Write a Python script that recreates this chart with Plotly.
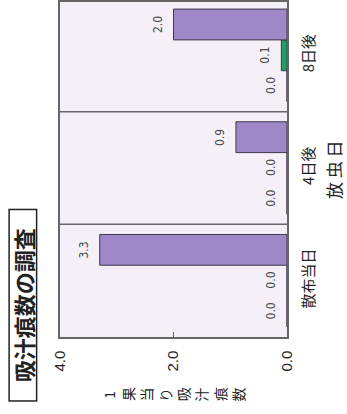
import plotly.graph_objects as go

# 放虫日ごとの1果当り吸汁痕数
categories = ["散布当日", "4日後", "8日後"]
series_names = ["区A", "区B", "区C"]
series_values = [
    [0.0, 0.0, 0.0],
    [0.0, 0.0, 0.1],
    [3.3, 0.9, 2.0],
]
series_colors = ["#e9c46a", "#1f9f62", "#9f88c7"]
value_ticks = [0.0, 2.0, 4.0]
value_tick_labels = ["0.0", "2.0", "4.0"]

W, H = 347, 414
ML, MR, MT, MB = 60, 60, 0, 77
BARGAP = 0.18

FONT_JP = "Noto Sans CJK JP, Noto Sans, sans-serif"
FONT_NUM = "Liberation Sans Narrow, DejaVu Sans Condensed, Liberation Sans, sans-serif"

fig = go.Figure()
for name, vals, col in zip(series_names, series_values, series_colors):
    fig.add_trace(go.Bar(
        name=name,
        x=vals,
        y=categories,
        orientation="h",
        marker=dict(color=col, line=dict(color="#3d3848", width=1)),
        showlegend=False,
    ))

fig.update_layout(
    width=W, height=H,
    margin=dict(l=ML, r=MR, t=MT, b=MB),
    paper_bgcolor="white",
    plot_bgcolor="#f5f0f8",
    barmode="group",
    bargap=BARGAP,
    bargroupgap=0,
    font=dict(family=FONT_JP, color="#222"),
)

fig.update_xaxes(
    range=[4.0, 0.0],
    tickvals=value_ticks,
    ticktext=value_tick_labels,
    tickangle=-90,
    ticks="inside",
    ticklen=5,
    tickcolor="#666",
    ticklabelstandoff=6,
    tickfont=dict(family="Liberation Sans, Arial, sans-serif", size=15, color="#222"),
    showgrid=False,
    zeroline=False,
    showline=True,
    mirror=True,
    linecolor="#666",
    linewidth=1.5,
)

fig.update_yaxes(
    type="category",
    categoryorder="array",
    categoryarray=categories,
    range=[-0.5, 2.473],
    side="right",
    tickangle=-90,
    ticks="",
    ticklabelstandoff=7,
    tickfont=dict(family=FONT_JP, size=15, color="#222"),
    showgrid=False,
    zeroline=False,
    showline=True,
    mirror=True,
    linecolor="#666",
    linewidth=1.5,
)

# 放虫日の区切り線
for pos in [0.5, 1.5]:
    fig.add_shape(type="line", xref="paper", yref="y",
                  x0=0, x1=1, y0=pos, y1=pos,
                  line=dict(color="#666", width=1.5))

# 棒の先端に数値ラベル(縦書き)
n = len(series_values)
slot = (1 - BARGAP) / n
for i, vals in enumerate(series_values):
    offset = (i - (n - 1) / 2) * slot
    for j, v in enumerate(vals):
        fig.add_annotation(
            text=f"{v:.1f}", textangle=-90,
            x=v, y=j + offset, xref="x", yref="y",
            xanchor="right", yanchor="middle", xshift=-7,
            showarrow=False,
            font=dict(family=FONT_NUM, size=12, color="#4a4a4a"),
        )

# 縦書きの軸タイトル(1文字ずつ左から右へ)
axis_title = "1果当り吸汁痕数"
step = 18.4 / (W - ML - MR)
x_first = 0.5 - step * (len(axis_title) - 1) / 2
for k, ch in enumerate(axis_title):
    fig.add_annotation(
        text=ch, textangle=-90,
        xref="paper", yref="paper", x=x_first + k * step, y=-0.172,
        xanchor="center", yanchor="middle", showarrow=False,
        font=dict(family=FONT_JP, size=14, color="#222"),
    )

fig.add_annotation(
    text="放 虫 日", textangle=-90,
    xref="paper", yref="paper", x=1.203, y=0.4985,
    xanchor="center", yanchor="middle", showarrow=False,
    font=dict(family=FONT_JP, size=17, color="#222"),
)

fig.add_annotation(
    text="<b>吸汁痕数の調査</b>", textangle=-90,
    xref="paper", yref="paper", x=-0.165, y=0.095,
    xanchor="center", yanchor="middle", showarrow=False,
    width=190, height=26, borderpad=0,
    bordercolor="#222", borderwidth=1.5, bgcolor="white",
    font=dict(family=FONT_JP, size=22, color="#222"),
)

fig.write_html("out.html")
